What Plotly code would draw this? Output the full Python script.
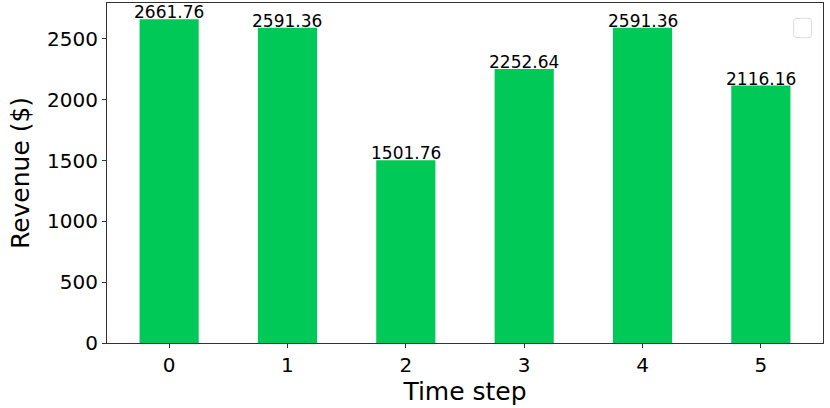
import plotly.graph_objects as go

# data
steps = [0, 1, 2, 3, 4, 5]
revenue = [2661.76, 2591.36, 1501.76, 2252.64, 2591.36, 2116.16]

bar_color = '#00c957'
font_family = 'DejaVu Sans'

fig = go.Figure()

fig.add_trace(go.Bar(
    x=steps,
    y=revenue,
    width=0.5,
    marker=dict(color=bar_color, line=dict(width=0)),
    showlegend=False,
    hoverinfo='x+y',
))

# value labels sitting right on top of each bar
for xi, v in zip(steps, revenue):
    fig.add_annotation(
        x=xi, y=v, text=f'{v:.2f}', showarrow=False,
        yanchor='bottom', yshift=-4, borderpad=0,
        font=dict(size=17, color='black', family=font_family),
    )

# empty legend box, top right (as in the original)
x0, x1, y0, y1, r = 0.959, 0.984, 0.898, 0.955, 0.006
fig.add_shape(
    type='path', xref='paper', yref='paper',
    path=(f'M {x0 + r},{y0} L {x1 - r},{y0} Q {x1},{y0} {x1},{y0 + r * 1.9} '
          f'L {x1},{y1 - r * 1.9} Q {x1},{y1} {x1 - r},{y1} '
          f'L {x0 + r},{y1} Q {x0},{y1} {x0},{y1 - r * 1.9} '
          f'L {x0},{y0 + r * 1.9} Q {x0},{y0} {x0 + r},{y0} Z'),
    line=dict(color='#d9d9d9', width=1),
    fillcolor='white',
)

axis_common = dict(
    showline=True, linecolor='#333333', linewidth=1, mirror=True,
    ticks='outside', ticklen=4, tickcolor='#333333', tickwidth=1,
    showgrid=False, zeroline=False, automargin=False,
    tickfont=dict(size=20, color='black', family=font_family),
)

fig.update_xaxes(
    range=[-0.525, 5.525], tickvals=steps,
    title=dict(text='Time step', font=dict(size=25, color='black', family=font_family), standoff=4),
    **axis_common,
)
fig.update_yaxes(
    range=[0, 2794.85], tickvals=[0, 500, 1000, 1500, 2000, 2500],
    title=dict(text='Revenue ($)', font=dict(size=25, color='black', family=font_family), standoff=10),
    **axis_common,
)

fig.update_layout(
    width=830, height=408,
    paper_bgcolor='white', plot_bgcolor='white',
    margin=dict(l=107, r=7, t=3, b=65, autoexpand=False),
    font=dict(family=font_family, color='black'),
)

fig.write_html('out.html', config={'displayModeBar': False},
               post_script="document.body.style.margin='0px';")
